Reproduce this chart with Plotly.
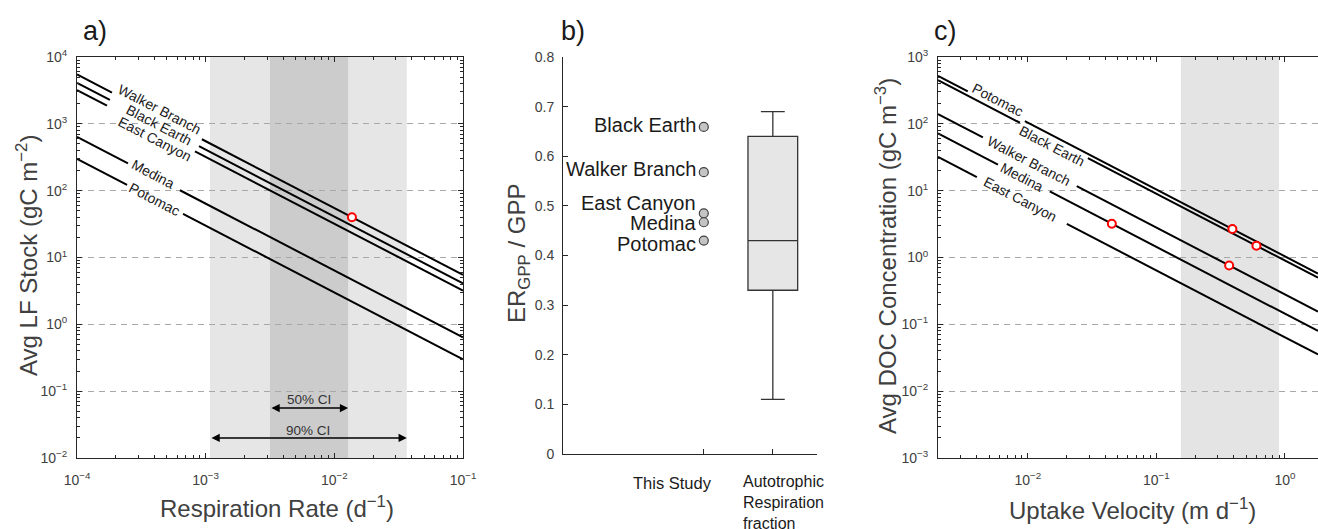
import numpy as np
import plotly.graph_objects as go

W, H = 1318, 529

# ---------------- data ----------------
# panel a: Avg LF stock = LF flux / respiration rate
sites_a = ["Walker Branch", "Black Earth", "East Canyon", "Medina", "Potomac"]
lf_flux = [0.55, 0.41, 0.32, 0.064, 0.030]            # gC m-2 d-1
a_gap_lo = [1.87e-4, 1.80e-4, 1.71e-4, 2.49e-4, 2.45e-4]
a_gap_hi = [9.35e-4, 8.87e-4, 8.26e-4, 6.31e-4, 6.67e-4]
a_label_x = [4.34e-4, 4.34e-4, 4.04e-4, 3.90e-4, 3.97e-4]
a_label_shift = [8, 0, -8, 2, 0]
resp_pt_x = [0.0137]
resp_pt_y = [40.0]
ci90 = [0.00108, 0.0366]
ci50 = [0.00316, 0.0128]
ci90_y, ci50_y = 0.020, 0.056
ci90_txt_y, ci50_txt_y = 0.026, 0.074

# panel b: ER_GPP / GPP
b_sites = ["Black Earth", "Walker Branch", "East Canyon", "Medina", "Potomac"]
b_ratio = [0.659, 0.568, 0.485, 0.467, 0.430]
b_label_shift = [2, 3, 10, -1, -3]
b_categories = ["This Study", "Autotrophic<br>Respiration<br>fraction"]
box_lowerfence, box_q1, box_median, box_q3, box_upperfence = 0.11, 0.33, 0.43, 0.64, 0.69

# panel c: Avg DOC concentration = DOC flux / uptake velocity
sites_c = ["Potomac", "Black Earth", "Walker Branch", "Medina", "East Canyon"]
doc_flux = [1.04, 0.90, 0.28, 0.144, 0.064]
c_gap_lo = [0.00341, 0.00867, 0.00447, 0.00585, 0.00401]
c_gap_hi = [0.00948, 0.0293, 0.0240, 0.0148, 0.0201]
c_label_x = [0.00585, 0.0154, 0.0102, 0.00898, 0.00866]
c_label_shift = [7, -7, 0, 0, 0]
c_pt_v = [0.045, 0.39, 0.60, 0.368]
c_pt_c = [3.2, 2.67, 1.5, 0.76]
uptake_band = [0.155, 0.90]

# ---------------- layout geometry ----------------
def px_x(p):
    return p / W

def px_y(p):
    return (H - p) / H

dom_a_x = [px_x(77), px_x(463)]
dom_b_x = [px_x(563), px_x(817)]
dom_c_x = [px_x(938), 1.0]
dom_y = [px_y(458), px_y(57)]
dom_b_y = [px_y(454), px_y(57)]

xr_a = [-4, -1]
yr_a = [-2, 4]
xr_c = [np.log10(0.002), 0.257]
yr_c = [-3, 3]

AXC = "#262626"
TXT = "#404040"
FONT = "Liberation Sans, Arial, sans-serif"


def sup_labels(exps):
    return ["10<sup>%s</sup>" % (str(e).replace("-", "\u2212")) for e in exps]


def minor_vals(e0, e1):
    out = []
    for e in range(e0, e1):
        for m in range(2, 10):
            out.append(m * 10.0 ** e)
    return out


fig = go.Figure()

# ---------------- panel a ----------------
xa0, xa1 = 10 ** xr_a[0], 10 ** xr_a[1]
for s, f, lo, hi in zip(sites_a, lf_flux, a_gap_lo, a_gap_hi):
    xs = [xa0, lo, None, hi, xa1]
    ys = [f / v if v is not None else None for v in xs]
    fig.add_trace(go.Scatter(x=xs, y=ys, mode="lines", line=dict(color="black", width=2),
                             xaxis="x", yaxis="y", showlegend=False, hoverinfo="skip"))
fig.add_trace(go.Scatter(x=resp_pt_x, y=resp_pt_y, mode="markers",
                         marker=dict(symbol="circle", size=8, color="white",
                                     line=dict(color="red", width=2)),
                         xaxis="x", yaxis="y", showlegend=False))

# ---------------- panel b ----------------
fig.add_trace(go.Box(x=[2], q1=[box_q1], median=[box_median], q3=[box_q3],
                     lowerfence=[box_lowerfence], upperfence=[box_upperfence],
                     width=0.72, whiskerwidth=0.48, fillcolor="#e6e6e6",
                     line=dict(color="#333333", width=1.3), boxpoints=False,
                     xaxis="x2", yaxis="y2", showlegend=False))
fig.add_trace(go.Scatter(x=[1] * len(b_ratio), y=b_ratio, mode="markers",
                         marker=dict(symbol="circle", size=9, color="#c4c4c4",
                                     line=dict(color="#404040", width=1.2)),
                         xaxis="x2", yaxis="y2", showlegend=False))

# ---------------- panel c ----------------
xc0, xc1 = 10 ** xr_c[0], 10 ** xr_c[1]
for s, f, lo, hi in zip(sites_c, doc_flux, c_gap_lo, c_gap_hi):
    xs = [xc0, lo, None, hi, xc1]
    ys = [f / v if v is not None else None for v in xs]
    fig.add_trace(go.Scatter(x=xs, y=ys, mode="lines", line=dict(color="black", width=2),
                             xaxis="x3", yaxis="y3", showlegend=False, hoverinfo="skip"))
fig.add_trace(go.Scatter(x=c_pt_v, y=c_pt_c, mode="markers",
                         marker=dict(symbol="circle", size=8, color="white",
                                     line=dict(color="red", width=2)),
                         xaxis="x3", yaxis="y3", showlegend=False))

# ---------------- shading ----------------
shapes = [
    dict(type="rect", xref="x", yref="y domain", x0=ci90[0], x1=ci90[1], y0=0, y1=1,
         fillcolor="#e6e6e6", line=dict(width=0), layer="below"),
    dict(type="rect", xref="x", yref="y domain", x0=ci50[0], x1=ci50[1], y0=0, y1=1,
         fillcolor="#cccccc", line=dict(width=0), layer="below"),
    dict(type="rect", xref="x3", yref="y3 domain", x0=uptake_band[0], x1=uptake_band[1],
         y0=0, y1=1, fillcolor="#e4e4e4", line=dict(width=0), layer="below"),
]

# ---------------- annotations ----------------
ann = []

def line_angle(dom_x, xr, dom_yy, yr):
    ppd_x = (dom_x[1] - dom_x[0]) * W / (xr[1] - xr[0])
    ppd_y = (dom_yy[1] - dom_yy[0]) * H / (yr[1] - yr[0])
    return float(np.degrees(np.arctan(ppd_y / ppd_x)))

ang_a = line_angle(dom_a_x, xr_a, dom_y, yr_a)
ang_c = line_angle(dom_c_x, xr_c, dom_y, yr_c)

for s, f, lx, sh in zip(sites_a, lf_flux, a_label_x, a_label_shift):
    ann.append(dict(x=np.log10(lx), y=np.log10(f / lx), xref="x", yref="y", text=s,
                    showarrow=False, textangle=ang_a, yshift=sh,
                    xanchor="center", yanchor="middle",
                    font=dict(size=14, color="#1a1a1a", family=FONT)))
for s, f, lx, sh in zip(sites_c, doc_flux, c_label_x, c_label_shift):
    ann.append(dict(x=np.log10(lx), y=np.log10(f / lx), xref="x3", yref="y3", text=s,
                    showarrow=False, textangle=ang_c, yshift=sh,
                    xanchor="center", yanchor="middle",
                    font=dict(size=14, color="#1a1a1a", family=FONT)))

# CI arrows
for (lo, hi), yv, ty, lab in [(ci50, ci50_y, ci50_txt_y, "50% CI"), (ci90, ci90_y, ci90_txt_y, "90% CI")]:
    ann.append(dict(x=np.log10(hi), y=np.log10(yv), ax=np.log10(lo), ay=np.log10(yv),
                    xref="x", yref="y", axref="x", ayref="y", text="", showarrow=True,
                    arrowhead=2, arrowside="end+start", arrowsize=1.1, arrowwidth=1.5,
                    arrowcolor="black"))
    ann.append(dict(x=np.log10(np.sqrt(lo * hi)), y=np.log10(ty), xref="x", yref="y",
                    text=lab, showarrow=False, xanchor="center", yanchor="middle",
                    font=dict(size=13.5, color="#333333", family=FONT)))

# panel b site labels
for s, v, sh in zip(b_sites, b_ratio, b_label_shift):
    ann.append(dict(x=1, y=v, xref="x2", yref="y2", text=s, showarrow=False,
                    xanchor="right", yanchor="middle", xshift=-6, yshift=sh,
                    font=dict(size=20, color="#1a1a1a", family=FONT)))

# panel b category labels
ann.append(dict(x=1, y=px_y(472), xref="x2", yref="paper", text=b_categories[0],
                showarrow=False, xanchor="right", yanchor="top", xshift=10,
                font=dict(size=16.5, color="#1a1a1a", family=FONT)))
ann.append(dict(x=2, y=px_y(471), xref="x2", yref="paper", text=b_categories[1],
                showarrow=False, xanchor="left", yanchor="top", xshift=-32, align="left",
                font=dict(size=16, color="#1a1a1a", family=FONT)))

# panel letters
for lab, xp in [("a)", 81), ("b)", 559), ("c)", 932)]:
    ann.append(dict(x=px_x(xp), y=px_y(31), xref="paper", yref="paper", text=lab,
                    showarrow=False, xanchor="left", yanchor="middle",
                    font=dict(size=27, color="#1a1a1a", family=FONT)))

# axis titles
TF = dict(size=24, color=TXT, family=FONT)
title_specs = [
    (27, 256, -90, "Avg LF Stock (gC m<sup>\u22122</sup>)"),
    (277, 507, 0, "Respiration Rate (d<sup>\u22121</sup>)"),
    (518, 254, -90, "ER<sub>GPP</sub> / GPP"),
    (886, 256, -90, "Avg DOC Concentration (gC m<sup>\u22123</sup>)"),
    (1132, 509, 0, "Uptake Velocity (m d<sup>\u22121</sup>)"),
]
for xp, yp, ang, txt in title_specs:
    ann.append(dict(x=px_x(xp), y=px_y(yp), xref="paper", yref="paper", textangle=ang,
                    text=txt, showarrow=False, xanchor="center", yanchor="middle", font=TF))

TICKF = dict(size=14, color=TXT, family=FONT)
common = dict(showline=True, linecolor=AXC, linewidth=1, ticks="inside", ticklen=5,
              tickcolor=AXC, tickwidth=1, tickfont=TICKF, zeroline=False, automargin=False)

gridstyle = dict(showgrid=True, gridcolor="#a8a8a8", griddash="6px,5px", gridwidth=1)

fig.update_layout(
    width=W, height=H, margin=dict(l=0, r=0, t=0, b=0, pad=0, autoexpand=False),
    paper_bgcolor="white", plot_bgcolor="white",
    font=dict(family=FONT),
    shapes=shapes, annotations=ann,
    xaxis=dict(domain=dom_a_x, type="log", range=xr_a, anchor="y", mirror="ticks",
               tickvals=[10.0 ** e for e in range(-4, 0)], ticktext=sup_labels(range(-4, 0)),
               showgrid=False, ticklabelstandoff=9,
               minor=dict(tickvals=minor_vals(-4, -1), ticks="inside", ticklen=3,
                          tickcolor=AXC, showgrid=False), **common),
    yaxis=dict(domain=dom_y, type="log", range=yr_a, anchor="x", mirror="ticks",
               tickvals=[10.0 ** e for e in range(-2, 5)], ticktext=sup_labels(range(-2, 5)),
               ticklabelstandoff=6,
               minor=dict(tickvals=minor_vals(-2, 4), ticks="inside", ticklen=3,
                          tickcolor=AXC, showgrid=False), **gridstyle, **common),
    xaxis2=dict(domain=dom_b_x, range=[-1.04, 2.64], anchor="y2", tickvals=[1, 2],
                showticklabels=False, showgrid=False, **common),
    yaxis2=dict(domain=dom_b_y, range=[0, 0.8], anchor="x2", dtick=0.1, tick0=0,
                showgrid=False, ticklabelstandoff=5, **common),
    xaxis3=dict(domain=dom_c_x, type="log", range=xr_c, anchor="y3", mirror="ticks",
                tickvals=[10.0 ** e for e in range(-2, 1)], ticktext=sup_labels(range(-2, 1)),
                showgrid=False, ticklabelstandoff=9,
                minor=dict(tickvals=minor_vals(-3, 1), ticks="inside", ticklen=3,
                           tickcolor=AXC, showgrid=False), **common),
    yaxis3=dict(domain=dom_y, type="log", range=yr_c, anchor="x3", mirror=False,
                tickvals=[10.0 ** e for e in range(-3, 4)], ticktext=sup_labels(range(-3, 4)),
                ticklabelstandoff=6,
                minor=dict(tickvals=minor_vals(-3, 3), ticks="inside", ticklen=3,
                           tickcolor=AXC, showgrid=False), **gridstyle, **common),
)

fig.write_html("out.html", config={"displayModeBar": False},
               post_script="document.body.style.margin='0px';document.body.style.overflow='hidden';")
